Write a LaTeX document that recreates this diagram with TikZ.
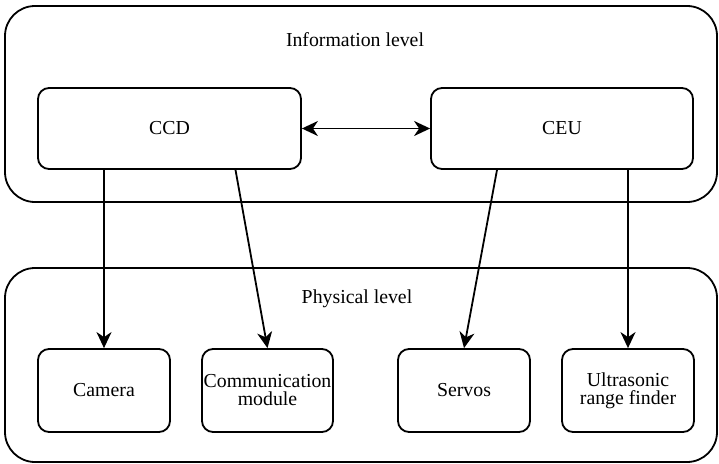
\documentclass[tikz,border=0pt]{standalone}
\usepackage{fontspec}
\setmainfont{Liberation Serif}
\usetikzlibrary{arrows.meta}
\begin{document}
\begin{tikzpicture}[x=1pt,y=-1pt,
  levelbox/.style={draw,line width=1.8pt,rounded corners=30pt},
  unitbox/.style={draw,line width=1.8pt,rounded corners=11pt,align=center,font=\fontsize{19.8}{21}\selectfont},
  conn/.style={line width=1.8pt,-{Stealth[length=16pt,width=15pt,inset=5pt]}},
  lbl/.style={font=\fontsize{19.8}{21}\selectfont}]
\useasboundingbox (0,0) rectangle (719,463);
\draw[levelbox] (5,6) rectangle (717,202);
\draw[levelbox] (5,268) rectangle (717,462);
\node[lbl] (infolbl) at (355,40) {Information level};
\node[lbl] (physlbl) at (357,299) {Physical level};
\node[unitbox,minimum width=263pt,minimum height=81pt] (ccd) at (169.5,128.5) {CCD};
\node[unitbox,minimum width=262pt,minimum height=81pt] (ceu) at (562,128.5) {CEU};
\node[unitbox,minimum width=132pt,minimum height=83pt] (cam) at (104,390.5) {Camera};
\node[unitbox,minimum width=131pt,minimum height=83pt,inner sep=0pt] (comm) at (267.5,390.5) {Communication\\[-3pt]module};
\node[unitbox,minimum width=132pt,minimum height=83pt] (serv) at (464,390.5) {Servos};
\node[unitbox,minimum width=132pt,minimum height=83pt] (ultra) at (628,390.5) {Ultrasonic\\[-3pt]range finder};
\draw[line width=1.8pt,{Stealth[length=16pt,width=15pt,inset=5pt]}-{Stealth[length=16pt,width=15pt,inset=5pt]}] (ccd.east) -- (ceu.west);
\draw[conn] (ccd.south -| cam.north) -- (cam.north);
\draw[conn] ([xshift=66pt]ccd.south) -- (comm.north);
\draw[conn] ([xshift=-65pt]ceu.south) -- (serv.north);
\draw[conn] (ceu.south -| ultra.north) -- (ultra.north);
\end{tikzpicture}
\end{document}
